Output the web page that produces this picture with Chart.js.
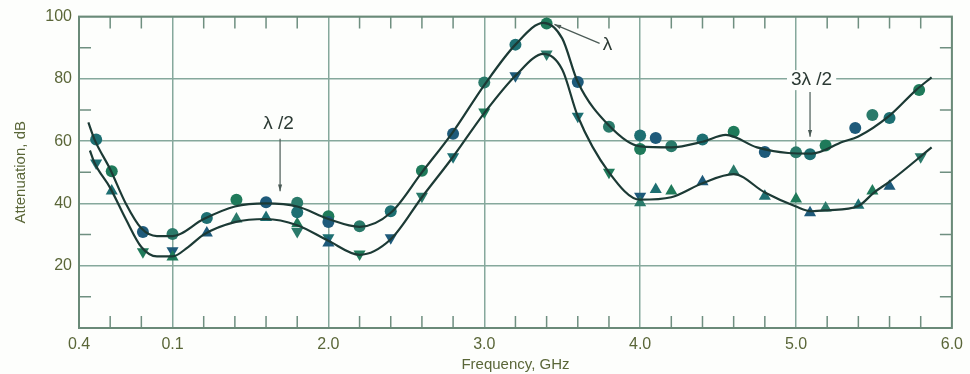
<!DOCTYPE html>
<html>
<head>
<meta charset="utf-8">
<script src="https://cdn.jsdelivr.net/npm/chart.js@4/dist/chart.umd.min.js"></script>
<style>
  html, body { margin: 0; padding: 0; background: #fdfefc; }
  #wrap { width: 970px; height: 374px; position: relative; }
</style>
</head>
<body>
<div id="wrap"><canvas id="attChart"></canvas></div>
<script>
// x tick values and the labels printed under them (as in the original figure)
const xTickValues = [0.4, 1.0, 2.0, 3.0, 4.0, 5.0, 6.0];
const xTickLabels = ['0.4', '0.1', '2.0', '3.0', '4.0', '5.0', '6.0'];

// smooth fitted curves
const upperCurveX = [0.46, 0.5, 0.6, 0.7, 0.8, 0.9, 1.0, 1.2, 1.4, 1.6, 1.8, 2.0, 2.2, 2.4, 2.6, 2.8, 3.0, 3.2, 3.38, 3.5, 3.6, 3.8, 4.0, 4.2, 4.4, 4.55, 4.75, 4.95, 5.1, 5.3, 5.4, 5.6, 5.77, 5.87];
const upperCurveY = [66, 60.5, 51, 40, 32, 29.5, 29.5, 35, 39, 40, 39, 35, 32.5, 37, 50, 63, 78, 91, 98, 93, 79, 65, 58.3, 58, 59.8, 62, 58, 56.2, 56, 59.8, 61.5, 68.2, 76.4, 80.5];
const lowerCurveX = [0.47, 0.5, 0.6, 0.7, 0.8, 0.9, 1.0, 1.1, 1.2, 1.4, 1.6, 1.8, 2.0, 2.2, 2.4, 2.6, 2.8, 3.0, 3.2, 3.38, 3.5, 3.6, 3.8, 4.0, 4.2, 4.4, 4.6, 4.8, 5.0, 5.1, 5.2, 5.4, 5.5, 5.6, 5.87];
const lowerCurveY = [57, 53, 45, 35, 26, 23, 23, 26, 30, 34, 35, 33, 28, 23.5, 28.5, 42, 55, 69, 81, 88, 83, 68, 50, 41.2, 42, 46.5, 49.4, 43.5, 39, 37.5, 37.8, 39.2, 43.5, 47, 58];

// measured points: circles
const circleX = [0.51, 0.61, 0.81, 1.0, 1.22, 1.41, 1.6, 1.8, 1.8, 2.0, 2.0, 2.2, 2.4, 2.6, 2.8, 3.0, 3.2, 3.4, 3.6, 3.8, 4.0, 4.0, 4.1, 4.2, 4.4, 4.6, 4.8, 5.0, 5.09, 5.19, 5.38, 5.49, 5.6, 5.79];
const circleY = [60.5, 50.3, 30.8, 30.2, 35.3, 41.2, 40.4, 40.2, 37.2, 35.9, 34, 32.7, 37.5, 50.5, 62.4, 78.8, 91, 97.8, 79, 64.6, 61.8, 57.5, 61, 58.4, 60.5, 63, 56.5, 56.4, 55.8, 58.6, 64.2, 68.4, 67.4, 76.4];

// measured points: upward triangles
const triUpX = [0.61, 1.0, 1.22, 1.41, 1.6, 1.8, 2.0, 4.0, 4.1, 4.2, 4.4, 4.6, 4.8, 5.0, 5.09, 5.19, 5.4, 5.49, 5.6];
const triUpY = [44, 22.8, 30.5, 35, 35.5, 33.5, 27.3, 40.2, 44.5, 44, 47, 50.3, 42.3, 41.4, 37, 38.5, 39.4, 44, 45.5];

// measured points: downward triangles
const triDownX = [0.51, 0.81, 1.0, 1.8, 2.0, 2.2, 2.4, 2.6, 2.8, 3.0, 3.2, 3.4, 3.6, 3.8, 4.0, 5.8];
const triDownY = [53, 24.5, 24.8, 31, 29, 23.8, 29, 42.3, 55, 69.4, 81, 88, 68, 50, 42.3, 55];

// text labels inside the plot, with the arrows pointing at the curves
const noteText = ['\u03bb /2', '\u03bb', '3\u03bb /2'];
const noteX = [1.68, 3.79, 5.1];
const noteY = [65.6, 90.8, 79.6];
const arrowFromX = [1.69, 3.74, 5.09];
const arrowFromY = [60.8, 91.4, 75.8];
const arrowToX = [1.69, 3.45, 5.09];
const arrowToY = [43.9, 97.5, 61.4];

const markerColors = ['#1d6f72', '#1f7a5a', '#1e5a7a', '#2a7a6a'];
const curveColor = '#1c3a35';
const gridColor = '#86a89c';
const textColor = '#5a6638';

function pts(xs, ys) {
    return xs.map((x, i) => ({ x: x, y: ys[i] }));
}

// minor ticks, frame and notes
const decorPlugin = {
    id: 'decor',
    beforeDatasetsDraw(chart) {
        const ctx = chart.ctx;
        const a = chart.chartArea;
        const xs = chart.scales.x;
        const ys = chart.scales.y;
        ctx.save();
        ctx.strokeStyle = '#6f8f80';
        ctx.lineWidth = 1.5;
        ctx.beginPath();
        for (let v = 0.6; v < 5.95; v += 0.2) {
            if (Math.abs(v - Math.round(v)) < 0.01) continue;
            const px = xs.getPixelForValue(v);
            ctx.moveTo(px, a.bottom);
            ctx.lineTo(px, a.bottom - 12);
            ctx.moveTo(px, a.top);
            ctx.lineTo(px, a.top + 12);
        }
        for (let v = 10; v < 100; v += 20) {
            const py = ys.getPixelForValue(v);
            ctx.moveTo(a.left, py);
            ctx.lineTo(a.left + 12, py);
            ctx.moveTo(a.right, py);
            ctx.lineTo(a.right - 12, py);
        }
        ctx.stroke();
        ctx.strokeStyle = '#6a8a78';
        ctx.lineWidth = 2;
        ctx.strokeRect(a.left, a.top, a.right - a.left, a.bottom - a.top);

        // notes
        ctx.font = '19px "Liberation Sans", Arial, sans-serif';
        ctx.textAlign = 'center';
        ctx.textBaseline = 'middle';
        noteText.forEach((t, i) => {
            const tx = xs.getPixelForValue(noteX[i]);
            const ty = ys.getPixelForValue(noteY[i]);
            const w = ctx.measureText(t).width;
            ctx.fillStyle = '#fdfefc';
            ctx.fillRect(tx - w / 2 - 4, ty - 10, w + 8, 20);
            ctx.fillStyle = '#2c3a34';
            ctx.fillText(t, tx, ty);
            const x1 = xs.getPixelForValue(arrowFromX[i]);
            const y1 = ys.getPixelForValue(arrowFromY[i]);
            const x2 = xs.getPixelForValue(arrowToX[i]);
            const y2 = ys.getPixelForValue(arrowToY[i]);
            ctx.strokeStyle = '#4a5a55';
            ctx.lineWidth = 1.2;
            ctx.beginPath();
            ctx.moveTo(x1, y1);
            ctx.lineTo(x2, y2);
            ctx.stroke();
            const ang = Math.atan2(y2 - y1, x2 - x1);
            ctx.fillStyle = '#4a5a55';
            ctx.beginPath();
            ctx.moveTo(x2, y2);
            ctx.lineTo(x2 - 7 * Math.cos(ang - 0.3), y2 - 7 * Math.sin(ang - 0.3));
            ctx.lineTo(x2 - 7 * Math.cos(ang + 0.3), y2 - 7 * Math.sin(ang + 0.3));
            ctx.closePath();
            ctx.fill();
        });
        ctx.restore();
    }
};

const markerColor = ctx => markerColors[ctx.dataIndex % markerColors.length];

const config = {
    type: 'scatter',
    data: {
        datasets: [
            {
                type: 'line',
                data: pts(upperCurveX, upperCurveY),
                borderColor: curveColor,
                borderWidth: 2.2,
                pointRadius: 0,
                cubicInterpolationMode: 'monotone',
                fill: false
            },
            {
                type: 'line',
                data: pts(lowerCurveX, lowerCurveY),
                borderColor: curveColor,
                borderWidth: 2.2,
                pointRadius: 0,
                cubicInterpolationMode: 'monotone',
                fill: false
            },
            {
                data: pts(circleX, circleY),
                pointStyle: 'circle',
                pointRadius: 6,
                backgroundColor: markerColor,
                borderColor: markerColor,
                borderWidth: 0
            },
            {
                data: pts(triUpX, triUpY),
                pointStyle: 'triangle',
                pointRadius: 7,
                backgroundColor: markerColor,
                borderColor: markerColor,
                borderWidth: 0
            },
            {
                data: pts(triDownX, triDownY),
                pointStyle: 'triangle',
                pointRotation: 180,
                pointRadius: 7,
                backgroundColor: markerColor,
                borderColor: markerColor,
                borderWidth: 0
            }
        ]
    },
    options: {
        responsive: true,
        maintainAspectRatio: false,
        animation: false,
        layout: { padding: { left: 0, right: 13, top: 16, bottom: 0 } },
        plugins: { legend: { display: false }, tooltip: { enabled: false } },
        scales: {
            x: {
                type: 'linear',
                min: 0.4,
                max: 6.0,
                afterBuildTicks: scale => {
                    scale.ticks = xTickValues.map(v => ({ value: v }));
                },
                afterFit: scale => { scale.height = 46; },
                grid: { color: gridColor, lineWidth: 1.5, drawTicks: false },
                border: { display: false },
                ticks: {
                    padding: 7,
                    color: textColor,
                    font: { family: '"Liberation Sans", Arial, sans-serif', size: 16 },
                    maxRotation: 0,
                    autoSkip: false,
                    callback: (v, i) => xTickLabels[i]
                },
                title: {
                    display: true,
                    text: 'Frequency, GHz',
                    color: textColor,
                    font: { family: '"Liberation Sans", Arial, sans-serif', size: 15 },
                    padding: { top: 2, bottom: 0 }
                }
            },
            y: {
                min: 0,
                max: 100,
                afterFit: scale => { scale.width = 79; },
                grid: { color: gridColor, lineWidth: 1.5, drawTicks: false },
                border: { display: false },
                ticks: {
                    stepSize: 20,
                    padding: 7,
                    color: textColor,
                    font: { family: '"Liberation Sans", Arial, sans-serif', size: 16 },
                    callback: v => (v === 0 ? '' : String(v))
                },
                title: {
                    display: true,
                    text: 'Attenuation, dB',
                    color: textColor,
                    font: { family: '"Liberation Sans", Arial, sans-serif', size: 15 },
                    padding: { top: 12, bottom: 0 }
                }
            }
        }
    },
    plugins: [decorPlugin]
};

new Chart(document.getElementById('attChart').getContext('2d'), config);
</script>
</body>
</html>
